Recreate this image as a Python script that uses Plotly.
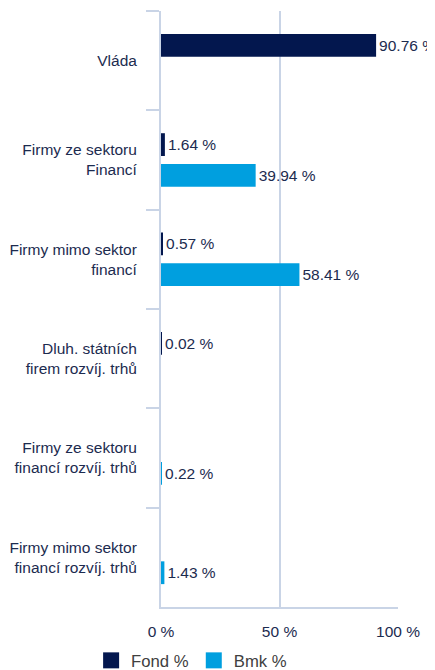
import plotly.graph_objects as go

categories = [
    "Vláda",
    "Firmy ze sektoru<br>Financí",
    "Firmy mimo sektor<br>financí",
    "Dluh. státních<br>firem rozvíj. trhů",
    "Firmy ze sektoru<br>financí rozvíj. trhů",
    "Firmy mimo sektor<br>financí rozvíj. trhů",
]
series_names = ["Fond %", "Bmk %"]
fond_values = [90.76, 1.64, 0.57, 0.02, None, None]
bmk_values = [None, 39.94, 58.41, None, 0.22, 1.43]
x_tickvals = [0, 50, 100]
x_ticktext = ["0 %", "50 %", "100 %"]

navy = "#03174e"
blue = "#009fdf"
text_col = "#1c2b4f"
grid_col = "#c9d4e6"
colors = [navy, blue]

fig = go.Figure()
for name, vals, col in zip(series_names, [fond_values, bmk_values], colors):
    fig.add_trace(go.Bar(
        name=name, y=categories, x=vals, orientation="h",
        marker=dict(color=col, line=dict(width=0)),
        texttemplate="%{x:.2f} %", textposition="outside", cliponaxis=False,
        textfont=dict(color=text_col, size=15.5), showlegend=False,
    ))
# legend swatches
for name, col in zip(series_names, colors):
    fig.add_trace(go.Scatter(
        name=name, x=[None], y=[None], mode="markers",
        marker=dict(symbol="square", size=16, color=col, line=dict(width=0)),
        showlegend=True, hoverinfo="skip",
    ))

fig.update_layout(
    width=427, height=662,
    margin=dict(l=153, r=37, t=3, b=63, autoexpand=False),
    barmode="group", bargap=0.38, bargroupgap=0.26,
    plot_bgcolor="white", paper_bgcolor="white",
    font=dict(family="Liberation Sans, Arial, sans-serif", color=text_col, size=15.5),
    showlegend=True,
    legend=dict(orientation="h", xref="container", x=0.43, xanchor="center",
                y=-0.0604, yanchor="top",
                font=dict(size=16.7, color="#404040"), itemwidth=30,
                traceorder="normal"),
)
fig.update_xaxes(
    range=[0, 100], tickvals=x_tickvals, ticktext=x_ticktext,
    showgrid=True, gridcolor=grid_col, gridwidth=2,
    zeroline=False, showline=True, linecolor=grid_col, linewidth=2,
    tickfont=dict(size=15.5, color=text_col), ticks="",
    ticklabelstandoff=9, fixedrange=True, automargin=False,
)
fig.update_yaxes(
    autorange="reversed", type="category", categoryorder="array", categoryarray=categories,
    ticks="outside", tickson="boundaries", ticklen=13, tickcolor=grid_col, tickwidth=2,
    showline=True, linecolor=grid_col, linewidth=2, showgrid=False,
    tickfont=dict(size=15.5, color=text_col), ticklabelstandoff=19,
    fixedrange=True, automargin=False,
)

fig.write_html("out.html")
